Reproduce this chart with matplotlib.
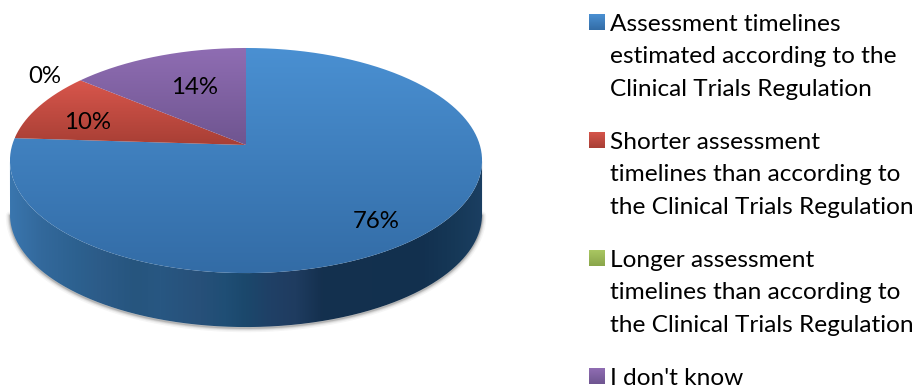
import numpy as np
import matplotlib
matplotlib.use("Agg")
import matplotlib.pyplot as plt
from matplotlib.patches import PathPatch
from matplotlib.path import Path

categories = [
    "Assessment timelines\nestimated according to the\nClinical Trials Regulation",
    "Shorter assessment\ntimelines than according to\nthe Clinical Trials Regulation",
    "Longer assessment\ntimelines than according to\nthe Clinical Trials Regulation",
    "I don't know",
]
shares = [76, 10, 0, 14]

# top and bottom colour of each slice's vertical gradient
slice_top = ["#4a90d2", "#d8564c", "#a9c662", "#8f6db3"]
slice_bottom = ["#336ca6", "#a83f35", "#8aa64a", "#6f5590"]

# side wall colours from left to right
wall_x = [10, 40, 80, 100, 135, 160, 200, 225, 245, 270, 295, 322, 420, 455, 482]
wall_colors = ["#3a76ae", "#33699c", "#2c608e", "#2c5b88", "#26557e", "#285782",
               "#275079", "#1f4e75", "#1b486c", "#1f4066", "#1f3c60", "#14304e",
               "#12304f", "#163857", "#1b3f62"]

apex_x, apex_y = 246, 145
scale_x, scale_y, tilt = 233.8, 110.4, 0.138
depth = 54


def project(theta):
    # perspective view of the unit disc, theta clockwise from 12 o'clock
    x, y = np.sin(theta), np.cos(theta)
    w = 1 + tilt * y
    return apex_x + scale_x * x / w, apex_y - scale_y * y / w


def to_rgb(c):
    return np.array(matplotlib.colors.to_rgb(c))


def gradient_fill(ax, xy, top, bottom, zorder):
    # vertical gradient clipped to a polygon
    x0, x1 = xy[:, 0].min(), xy[:, 0].max()
    y0, y1 = xy[:, 1].min(), xy[:, 1].max()
    t = np.linspace(0, 1, 128)[:, None, None]
    img = to_rgb(top)[None, None, :] * (1 - t) + to_rgb(bottom)[None, None, :] * t
    im = ax.imshow(img, extent=(x0, x1, y1, y0), aspect="auto", zorder=zorder,
                   interpolation="bilinear")
    patch = PathPatch(Path(xy), transform=ax.transData, fc="none", ec="none")
    ax.add_patch(patch)
    im.set_clip_path(patch)


fig = plt.figure(figsize=(9.16, 3.89), dpi=100)
ax = fig.add_axes([0, 0, 1, 1])
plt.rcParams["font.family"] = ["Lato", "DejaVu Sans"]

# side wall, swept from the front half of the rim
theta = np.linspace(0, 2 * np.pi, 1441)
rim_x, rim_y = project(theta)
right, left = np.argmax(rim_x), np.argmin(rim_x)
front_x, front_y = rim_x[right:left + 1], rim_y[right:left + 1]
wall = np.vstack([np.c_[front_x, front_y],
                  np.c_[front_x[::-1], front_y[::-1] + depth]])

# soft shadow under the wall
for lw, alpha in [(6, 0.05), (4, 0.08), (2.5, 0.12), (1.2, 0.2)]:
    ax.plot(front_x, front_y + depth + 1, color="#404040", lw=lw, alpha=alpha,
            zorder=1, solid_capstyle="round")

xs = np.arange(0, 500)
wall_rgb = np.array([to_rgb(c) for c in wall_colors])
strip = np.stack([np.interp(xs, wall_x, wall_rgb[:, i]) for i in range(3)], axis=1)
im = ax.imshow(strip[None, :, :], extent=(0, 500, 340, 100), aspect="auto", zorder=2)
wall_patch = PathPatch(Path(wall), transform=ax.transData, fc="none", ec="none")
ax.add_patch(wall_patch)
im.set_clip_path(wall_patch)

# top face, one slice per share
start = 0.0
total = sum(shares)
for share, top, bottom in zip(shares, slice_top, slice_bottom):
    stop = start + share / total * 2 * np.pi
    if share > 0:
        arc = np.linspace(start, stop, 400)
        ax_x, ax_y = project(arc)
        poly = np.vstack([[apex_x, apex_y], np.c_[ax_x, ax_y], [apex_x, apex_y]])
        gradient_fill(ax, poly, top, bottom, 3)
    start = stop

# value labels
label_pos = [(376, 221), (88, 122), (45, 76), (195, 87)]
for share, (lx, ly) in zip(shares, label_pos):
    ax.text(lx, ly, f"{share}%", fontsize=17.3, color="black", ha="center",
            va="center", zorder=5)

# legend
swatch_y = [14, 132, 250, 368]
text_y = [14, 132, 250, 368]
for name, top, bottom, sy, ty in zip(categories, slice_top, slice_bottom, swatch_y, text_y):
    square = np.array([[589, sy], [604.5, sy], [604.5, sy + 16], [589, sy + 16], [589, sy]])
    gradient_fill(ax, square, top, bottom, 4)
    ax.text(610, ty, name, fontsize=17.6, color="black", ha="left", va="top",
            linespacing=1.67, zorder=5)

ax.set_xlim(0, 916)
ax.set_ylim(389, 0)
ax.axis("off")
fig.savefig("out.png", dpi=100)
